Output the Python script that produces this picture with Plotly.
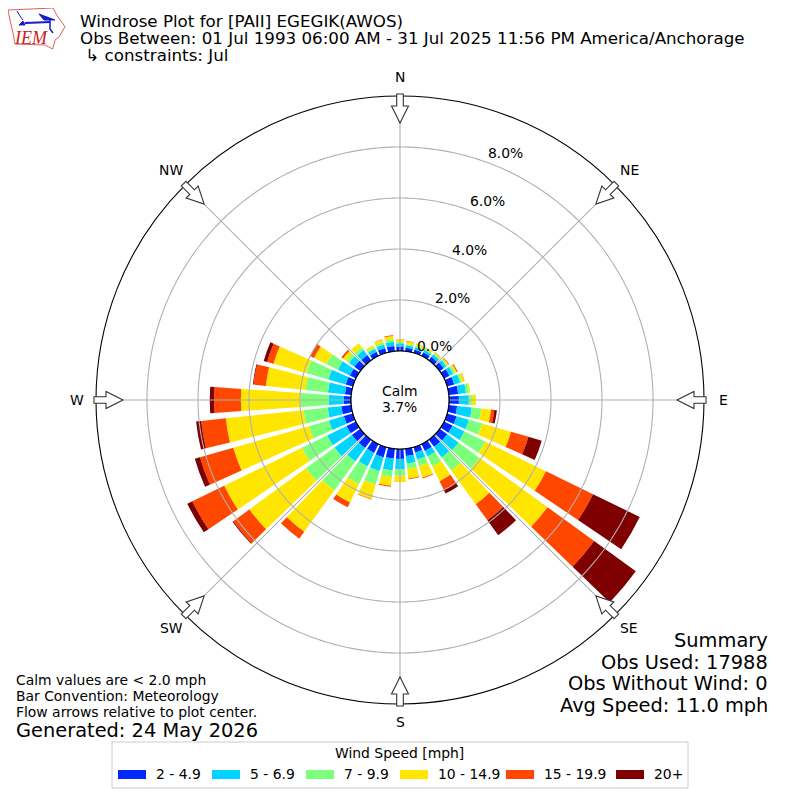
#!/usr/bin/env python3
# -*- coding: utf-8 -*-
"""Windrose plot for PAII, July observations, drawn with plotly."""

import math

import numpy as np
import plotly.graph_objects as go

FONT = "DejaVu Sans"
SIZE = 800
PAGE_MARGIN = 8  # the browser body margin moves the whole figure by this much

DIRECTIONS = list(range(10, 370, 10))
SPEED_LABELS = ["2 - 4.9", "5 - 6.9", "7 - 9.9", "10 - 14.9", "15 - 19.9", "20+"]
SPEED_COLORS = ["#0028ff", "#00d4ff", "#7cff7a", "#ffe600", "#ff4700", "#7f0000"]

# percent of observations per direction, 10 to 360 degrees
SPEED_2_5 = [.14, .14, .16, .17, .20, .24, .29, .37, .39, .33, .39, .37, .37, .35, .30, .22, .29, .39,
             .39, .42, .39, .41, .41, .41, .37, .39, .29, .25, .29, .27, .29, .26, .18, .20, .21, .18]
SPEED_5_7 = [.10, .10, .10, .12, .12, .16, .24, .31, .39, .58, .50, .52, .55, .51, .24, .29, .29, .41,
             .47, .56, .58, .65, .84, .85, .61, .54, .58, .67, .71, .52, .26, .24, .13, .14, .17, .12]
SPEED_7_10 = [.05, .05, .05, .05, .07, .09, .09, .12, .12, .37, .54, .91, 1.02, .64, .43, .26, .22, .25,
              .26, .54, .78, 1.40, 1.39, 1.10, .82, .95, 1.10, .89, .89, .50, .13, .13, .07, .09, .09, .05]
SPEED_10_15 = [.10, .08, .05, .05, .05, .07, .09, .05, .16, .39, 1.18, 2.65, 3.29, 1.63, .65, .47, .37, .24,
               .34, .59, .80, 2.01, 2.74, 3.39, 3.08, 3.07, 2.35, 1.56, 1.35, .54, .16, .20, .09, .12, .14, .10]
SPEED_15_20 = [.01, .01, .01, .01, .03, .04, .01, 0, 0, .13, .71, 2.05, 2.26, .78, .37, .04, .03, 0,
               .04, .03, .21, .33, .78, 1.39, 1.36, .97, 1.05, .48, .26, .16, .08, 0, 0, .01, .03, .01]
SPEED_20_UP = [0, 0, 0, 0, 0, 0, 0, 0, 0, .10, .54, 2.04, 2.02, .72, .17, 0, 0, 0,
               0, 0, 0, 0, .04, .22, .21, .20, .17, .03, .14, .01, 0, 0, 0, 0, 0, 0]
SPEED_SERIES = [SPEED_2_5, SPEED_5_7, SPEED_7_10, SPEED_10_15, SPEED_15_20, SPEED_20_UP]

RINGS = [2, 4, 6, 8]
RING_LABELS = ["0.0%", "2.0%", "4.0%", "6.0%", "8.0%"]
COMPASS = ["N", "NE", "E", "SE", "S", "SW", "W", "NW"]

CX, CY, R_OUT, R_HOLE = 400, 400, 304, 49
GRID = "#b0b0b0"


def xp(x):
    return (x - PAGE_MARGIN) / SIZE


def yp(y):
    return 1 - (y - PAGE_MARGIN) / SIZE


def label(text, x, y, size=13.9, anchor="left", color="black", family=FONT, style="normal"):
    """Text placed by pixel position, y is the middle of the line."""
    return dict(text=text, x=xp(x), y=yp(y), xref="paper", yref="paper", showarrow=False,
                xanchor=anchor, yanchor="middle", borderpad=0,
                font=dict(family=family, size=size, color=color, style=style))


def path_shape(points, closed=True, **kw):
    d = "M" + "L".join(f"{xp(x):.5f},{yp(y):.5f}" for x, y in points)
    if closed:
        d += "Z"
    return dict(type="path", path=d, xref="paper", yref="paper", **kw)


def flow_arrow(bearing):
    """Hollow arrow on the rim pointing at the plot center."""
    # local coordinates: radius from center, sideways offset
    outline = [(306, -3.3), (294, -3.3), (294, -8.5), (277, 0), (294, 8.5), (294, 3.3), (306, 3.3)]
    a = math.radians(bearing)
    pts = []
    for r, s in outline:
        pts.append((CX + r * math.sin(a) + s * math.cos(a), CY - r * math.cos(a) + s * math.sin(a)))
    return path_shape(pts, fillcolor="white", line=dict(color="#333333", width=1.1))


def logo_shapes():
    red = "#e0605c"
    blue = "#1a1acc"
    state = [(8, 10), (53, 8), (56.7, 15), (65, 26.7), (59, 37), (55, 40), (52.7, 49),
             (45, 45), (15, 44), (13, 33), (10, 20)]
    shapes = [path_shape(state, fillcolor="white", line=dict(color=red, width=1))]
    shapes.append(path_shape([(25, 23), (50, 22)], closed=False, line=dict(color=blue, width=2)))
    shapes.append(path_shape([(39, 14), (47, 17), (55, 20), (44, 20)], fillcolor=blue, line=dict(color=blue, width=1)))
    shapes.append(path_shape([(17, 11), (20, 16), (23, 20)], closed=False, line=dict(color=blue, width=1)))
    shapes.append(path_shape([(50, 19), (50, 29), (53, 33)], closed=False, line=dict(color=blue, width=1.5)))
    shapes.append(path_shape([(19, 25), (23, 21), (25, 25)], fillcolor=blue, line=dict(color=blue, width=1)))
    return shapes


def build():
    traces = []
    for name, color, values in zip(SPEED_LABELS, SPEED_COLORS, SPEED_SERIES):
        traces.append(go.Barpolar(r=values, theta=DIRECTIONS, width=8, name=name,
                                  marker=dict(color=color, line=dict(width=0)), showlegend=False))

    # the grid sits over the bars in this plot, plotly keeps its own grid under them
    circle = np.arange(0, 361, 1)
    for ring in RINGS:
        traces.append(go.Scatterpolar(r=[ring] * len(circle), theta=circle, mode="lines", hoverinfo="skip",
                                      line=dict(color=GRID, width=1.1), showlegend=False))
    for spoke in range(0, 360, 45):
        traces.append(go.Scatterpolar(r=[0, 10], theta=[spoke, spoke], mode="lines", hoverinfo="skip",
                                      line=dict(color=GRID, width=1.1), showlegend=False))
    traces.append(go.Scatterpolar(r=[0] * len(circle), theta=circle, mode="lines", hoverinfo="skip",
                                  line=dict(color="black", width=1.1), showlegend=False))

    fig = go.Figure(traces)

    notes = [
        label("Windrose Plot for [PAII] EGEGIK(AWOS)", 79, 21, 16.7),
        label("Obs Between: 01 Jul 1993 06:00 AM - 31 Jul 2025 11:56 PM America/Anchorage", 79, 38, 16.7),
        label(" ↳ constraints: Jul", 79, 55, 16.7),
        label("Calm", 400, 391, anchor="center"),
        label("3.7%", 399, 407, anchor="center"),
        label("Calm values are < 2.0 mph", 15, 680),
        label("Bar Convention: Meteorology", 15, 696),
        label("Flow arrows relative to plot center.", 15, 712),
        label("Generated: 24 May 2026", 15, 730, 19.4),
        label("Summary", 769, 640, 19.4, "right"),
        label("Obs Used: 17988", 769, 662, 19.4, "right"),
        label("Obs Without Wind: 0", 769, 683, 19.4, "right"),
        label("Avg Speed: 11.0 mph", 769, 705, 19.4, "right"),
        label("Wind Speed [mph]", 399, 753, anchor="center"),
        label("IEM", 31, 38, 18, "center", "#cc2222", "Liberation Serif", "italic"),
    ]
    for text, (x, y) in zip(COMPASS, [(400, 77), (629, 170), (723, 400), (629, 628),
                                      (400, 722), (171, 628), (77, 400), (171, 170)]):
        notes.append(label(text, x, y, anchor="center"))
    for text, (x, y) in zip(RING_LABELS, [(435, 346), (452, 298), (469, 250), (487, 201), (505, 153)]):
        notes.append(label(text, x, y, anchor="center"))

    shapes = [flow_arrow(b) for b in range(0, 360, 45)]
    shapes += logo_shapes()

    # legend box by hand, the native one cannot draw the wide swatches
    shapes.append(dict(type="rect", x0=xp(112), x1=xp(688), y0=yp(742), y1=yp(788), xref="paper", yref="paper",
                       line=dict(color="#cccccc", width=1), fillcolor="white"))
    swatch_x = [118, 212, 306, 400, 506, 616]
    for x, name, color in zip(swatch_x, SPEED_LABELS, SPEED_COLORS):
        shapes.append(dict(type="rect", x0=xp(x), x1=xp(x + 28), y0=yp(770), y1=yp(779), xref="paper", yref="paper",
                           line=dict(width=0), fillcolor=color))
        notes.append(label(name, x + 37, 774))

    fig.update_layout(
        width=SIZE, height=SIZE, autosize=False,
        margin=dict(l=0, r=0, t=0, b=0),
        paper_bgcolor="white",
        font=dict(family=FONT, color="black"),
        showlegend=False,
        annotations=notes,
        shapes=shapes,
        polar=dict(
            domain=dict(x=[xp(CX - R_OUT), xp(CX + R_OUT)], y=[yp(CY + R_OUT), yp(CY - R_OUT)]),
            bgcolor="white",
            hole=R_HOLE / R_OUT,
            barmode="stack",
            radialaxis=dict(range=[0, 10], visible=False, showgrid=False),
            angularaxis=dict(direction="clockwise", rotation=90, thetaunit="degrees", showgrid=False,
                             showticklabels=False, ticks="", showline=True, linecolor="black", linewidth=1.1),
        ),
    )
    return fig


if __name__ == "__main__":
    fig = build()
    fig.write_html("out.html")
